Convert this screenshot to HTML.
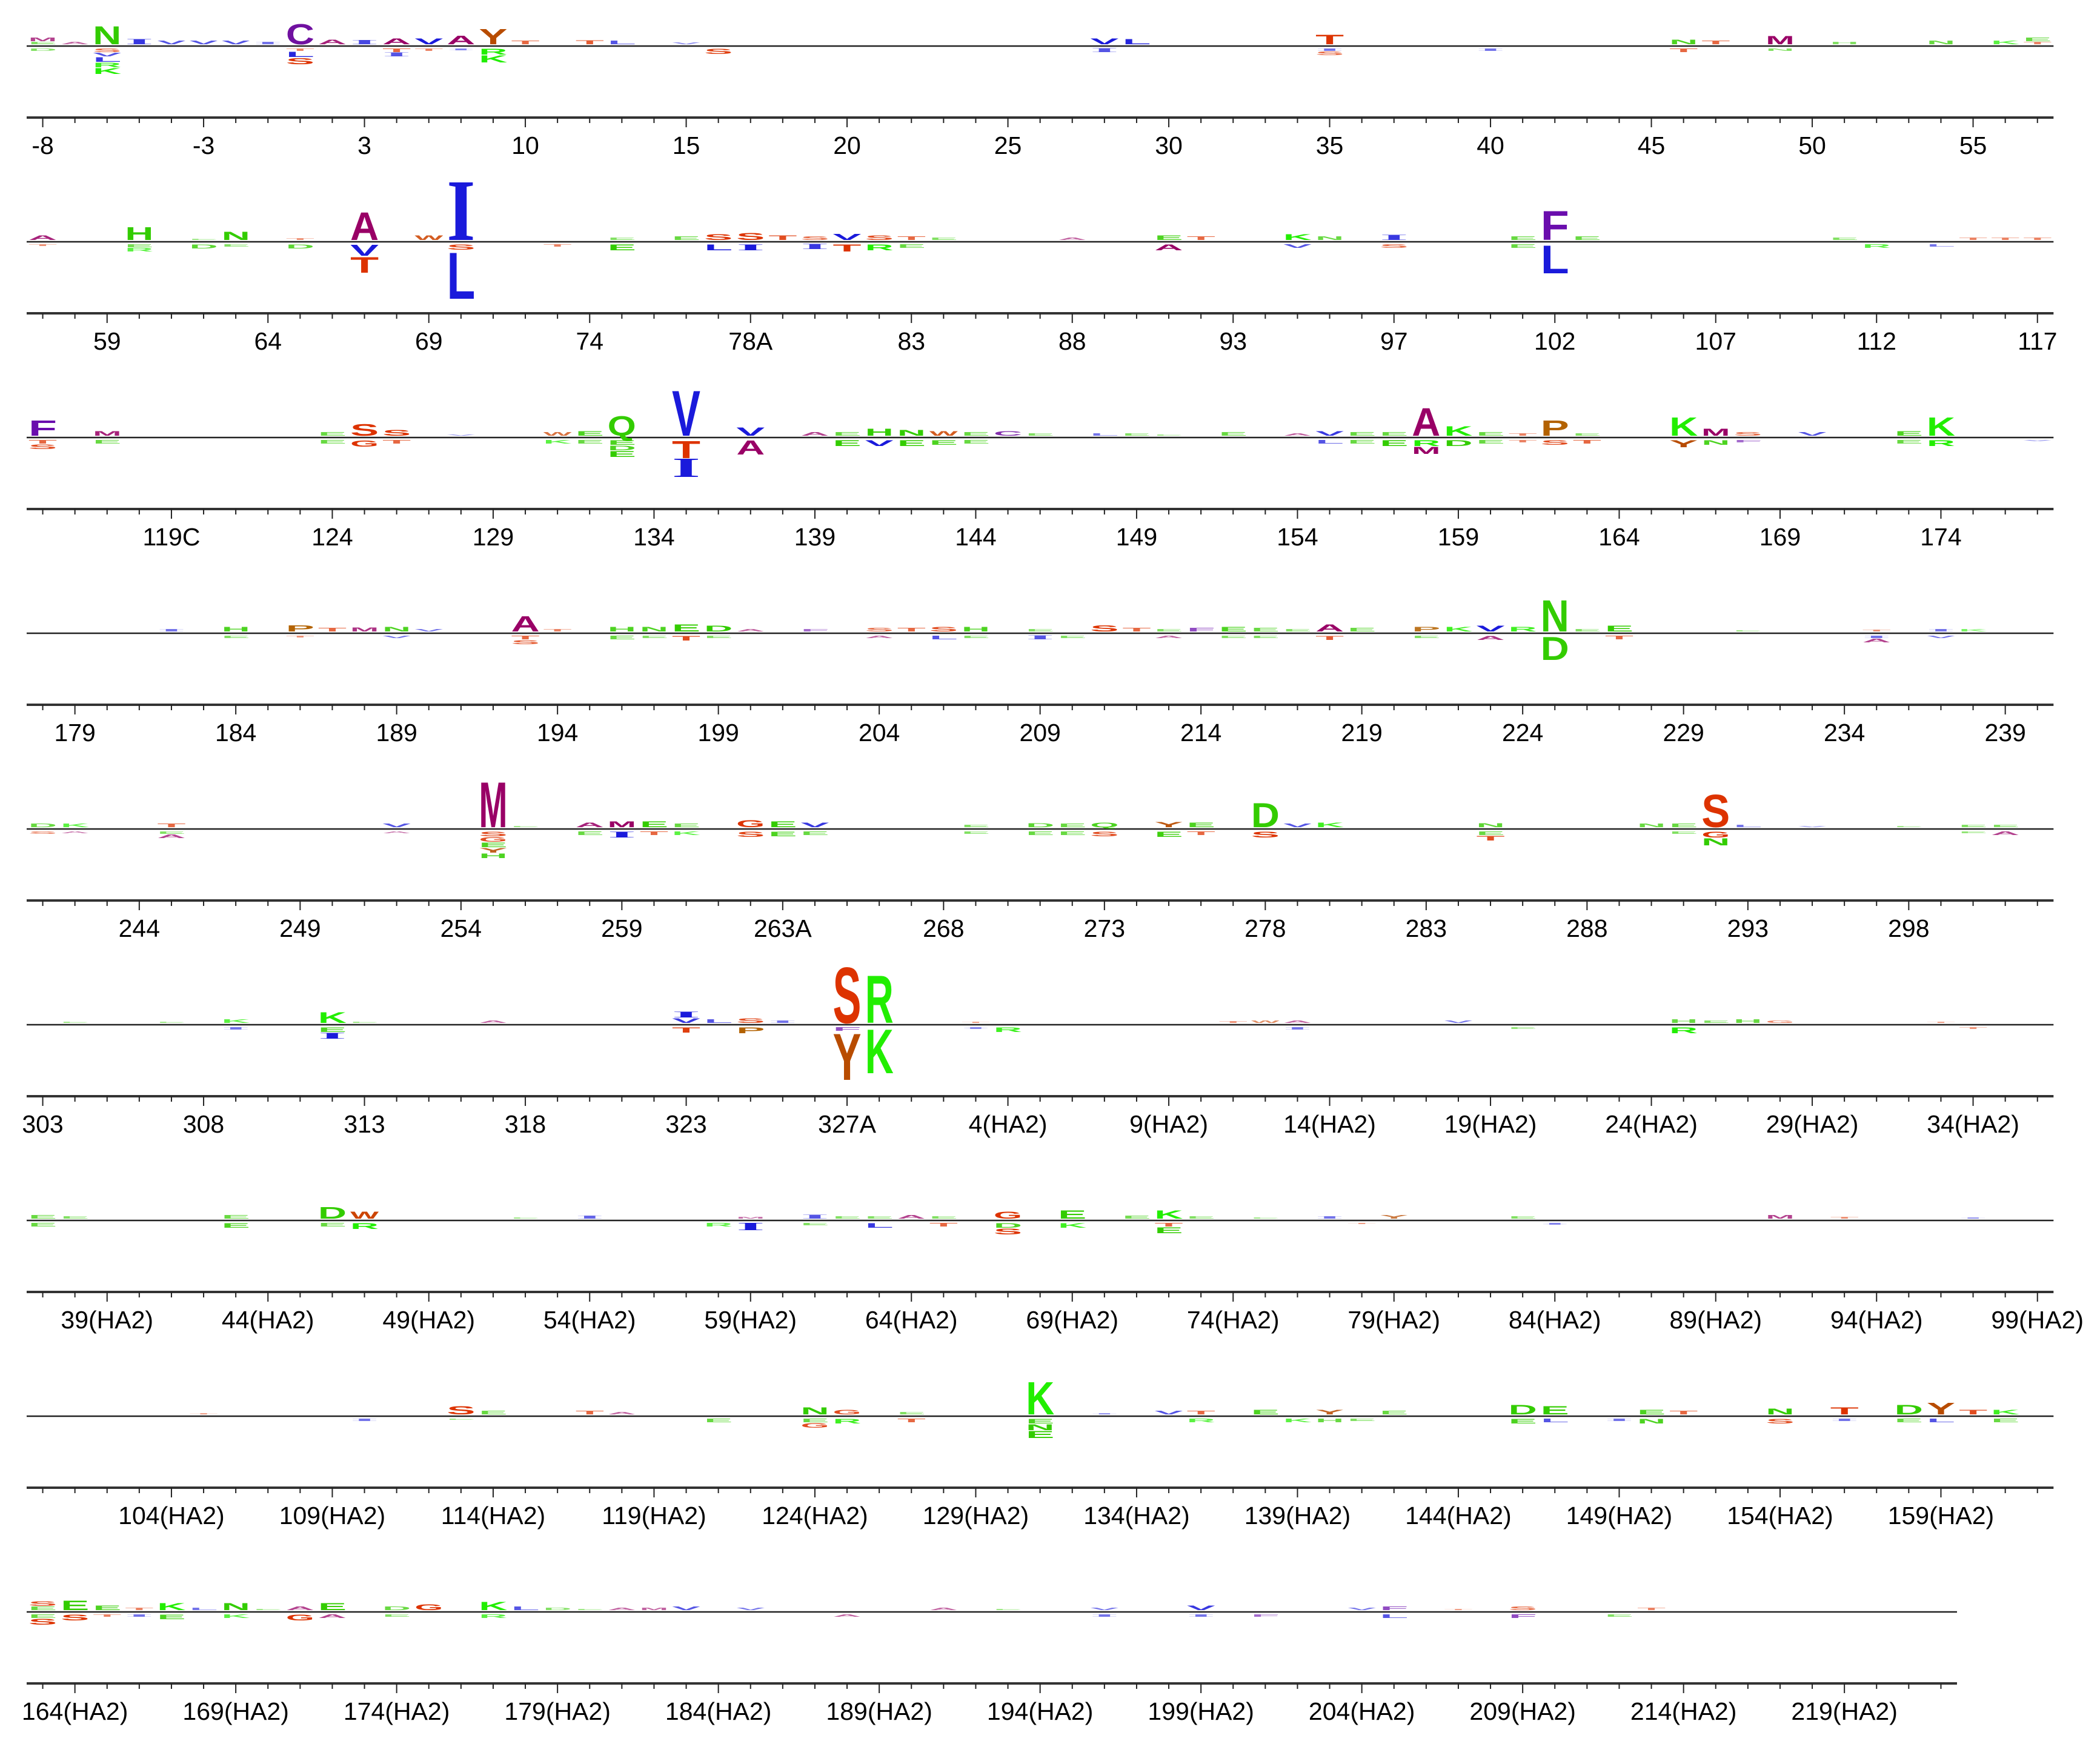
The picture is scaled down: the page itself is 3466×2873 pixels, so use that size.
<!DOCTYPE html>
<html><head><meta charset="utf-8"><style>
html,body{margin:0;padding:0;background:#fff;}
svg{display:block;}
</style></head><body>
<svg id="chart" xmlns="http://www.w3.org/2000/svg" width="3466" height="2873" viewBox="0 0 3466 2873"></svg>
<script>
// Axis label data per row
const rowLabels = [
 ["-8","-3","3","10","15","20","25","30","35","40","45","50","55"],
 ["59","64","69","74","78A","83","88","93","97","102","107","112","117"],
 ["119C","124","129","134","139","144","149","154","159","164","169","174"],
 ["179","184","189","194","199","204","209","214","219","224","229","234","239"],
 ["244","249","254","259","263A","268","273","278","283","288","293","298"],
 ["303","308","313","318","323","327A","4(HA2)","9(HA2)","14(HA2)","19(HA2)","24(HA2)","29(HA2)","34(HA2)"],
 ["39(HA2)","44(HA2)","49(HA2)","54(HA2)","59(HA2)","64(HA2)","69(HA2)","74(HA2)","79(HA2)","84(HA2)","89(HA2)","94(HA2)","99(HA2)"],
 ["104(HA2)","109(HA2)","114(HA2)","119(HA2)","124(HA2)","129(HA2)","134(HA2)","139(HA2)","144(HA2)","149(HA2)","154(HA2)","159(HA2)"],
 ["164(HA2)","169(HA2)","174(HA2)","179(HA2)","184(HA2)","189(HA2)","194(HA2)","199(HA2)","204(HA2)","209(HA2)","214(HA2)","219(HA2)"]
];
const rowFirstLabelIndex = [0,2,4,1,3,0,2,4,1];
const rowPositions = [63,63,63,63,63,63,63,63,60];
// letters: [row, position index, residue, value (+ enriched / - depleted)]
const letters = [
[0,2,'N',1.55],[0,8,'C',1.75],[0,14,'Y',1.3],[0,13,'A',0.75],[0,12,'V',0.5],[0,11,'A',0.5],[0,10,'I',0.35],[0,9,'A',0.4],
[0,0,'M',0.3],[0,0,'E',0.2],[0,1,'A',0.2],[0,3,'I',0.4],[0,4,'V',0.3],[0,5,'V',0.3],[0,6,'V',0.3],[0,7,'I',0.2],
[0,15,'T',0.3],[0,17,'T',0.35],[0,18,'L',0.3],[0,20,'V',0.15],[0,33,'V',0.5],[0,34,'L',0.45],[0,40,'T',0.8],[0,51,'N',0.4],
[0,52,'T',0.3],[0,54,'M',0.7],[0,56,'H',0.2],[0,59,'N',0.3],[0,61,'K',0.3],[0,62,'E',0.3],[0,62,'T',0.2],
[0,2,'S',-0.3],[0,2,'L',-0.4],[0,2,'V',-0.3],[0,2,'R',-0.4],[0,2,'K',-0.5],[0,0,'D',-0.2],[0,8,'L',-0.45],[0,8,'S',-0.55],
[0,8,'T',-0.2],[0,11,'T',-0.3],[0,11,'I',-0.3],[0,12,'T',-0.2],[0,14,'R',-0.5],[0,14,'K',-0.6],[0,13,'I',-0.15],[0,21,'S',-0.45],
[0,33,'I',-0.3],[0,40,'S',-0.3],[0,40,'I',-0.2],[0,45,'I',-0.2],[0,51,'T',-0.3],[0,54,'N',-0.2],
[1,0,'A',0.4],[1,3,'H',1.1],[1,6,'N',0.7],[1,5,'E',0.1],[1,8,'T',0.15],[1,10,'A',2.4],[1,12,'W',0.4],[1,13,'I',4.8],
[1,0,'T',-0.15],[1,3,'R',-0.3],[1,3,'E',-0.25],[1,5,'D',-0.35],[1,6,'E',-0.2],[1,8,'D',-0.35],[1,10,'V',-0.95],[1,10,'T',-1.35],
[1,13,'S',-0.45],[1,13,'L',-4.0],[1,16,'T',-0.2],[1,18,'E',-0.5],[1,18,'E',0.2],[1,20,'E',0.3],
[1,21,'S',0.5],[1,22,'S',0.6],[1,23,'T',0.4],[1,24,'S',0.3],[1,25,'V',0.55],[1,26,'S',0.4],[1,27,'T',0.3],[1,28,'E',0.2],
[1,21,'L',-0.5],[1,22,'I',-0.5],[1,24,'I',-0.4],[1,25,'T',-0.6],[1,26,'R',-0.5],[1,27,'E',-0.3],
[1,32,'A',0.2],[1,35,'E',0.4],[1,36,'T',0.3],[1,35,'A',-0.5],[1,39,'K',0.5],[1,40,'N',0.3],[1,39,'V',-0.3],[1,42,'I',0.4],
[1,42,'S',-0.3],[1,47,'F',2.5],[1,47,'L',-2.4],[1,46,'E',0.3],[1,48,'E',0.3],[1,46,'E',-0.3],[1,56,'E',0.2],[1,57,'R',-0.3],
[1,60,'T',0.2],[1,61,'T',0.2],[1,62,'T',0.2],[1,59,'L',-0.2],
[2,0,'F',1.3],[2,2,'M',0.4],[2,0,'S',-0.4],[2,0,'T',-0.3],[2,2,'E',-0.3],[2,10,'S',1.0],[2,11,'S',0.5],[2,9,'E',0.3],
[2,10,'G',-0.55],[2,9,'E',-0.3],[2,11,'T',-0.3],[2,13,'V',0.1],[2,16,'W',0.3],[2,17,'E',0.4],[2,18,'Q',1.7],[2,18,'E',-0.4],
[2,18,'D',-0.4],[2,18,'E',-0.5],[2,16,'K',-0.3],[2,17,'E',-0.3],[2,20,'V',3.9],[2,20,'T',-1.5],[2,20,'I',-1.5],[2,22,'V',0.7],
[2,22,'A',-1.2],[2,24,'A',0.3],[2,25,'E',0.3],[2,26,'H',0.6],[2,27,'N',0.5],[2,28,'W',0.4],[2,29,'E',0.3],[2,30,'C',0.4],
[2,31,'E',0.2],[2,25,'E',-0.5],[2,26,'V',-0.5],[2,27,'E',-0.5],[2,28,'E',-0.4],[2,29,'E',-0.3],[2,33,'L',0.2],[2,34,'E',0.2],
[2,35,'E',0.1],[2,37,'E',0.3],[2,39,'A',0.2],[2,40,'V',0.4],[2,41,'E',0.3],[2,42,'E',0.3],[2,43,'A',2.4],[2,44,'K',0.8],
[2,45,'E',0.3],[2,46,'T',0.2],[2,40,'L',-0.3],[2,41,'E',-0.3],[2,42,'E',-0.5],[2,43,'R',-0.5],[2,43,'M',-0.6],[2,44,'D',-0.5],
[2,45,'E',-0.3],[2,46,'T',-0.2],[2,47,'P',1.3],[2,48,'E',0.2],[2,47,'S',-0.4],[2,48,'T',-0.3],[2,51,'K',1.6],[2,52,'M',0.6],
[2,53,'S',0.3],[2,51,'Y',-0.6],[2,52,'N',-0.4],[2,53,'F',-0.2],[2,55,'V',0.3],[2,58,'E',0.4],[2,59,'K',1.6],[2,58,'E',-0.3],
[2,59,'R',-0.5],[2,62,'V',-0.1],
[3,4,'I',0.2],[3,6,'H',0.4],[3,8,'P',0.55],[3,9,'T',0.3],[3,10,'M',0.35],[3,11,'N',0.4],[3,12,'V',0.2],[3,15,'A',1.3],
[3,16,'T',0.2],[3,18,'H',0.4],[3,19,'N',0.4],[3,20,'E',0.6],[3,21,'D',0.5],[3,22,'A',0.2],[3,24,'F',0.2],[3,26,'S',0.3],
[3,27,'T',0.3],[3,28,'S',0.4],[3,29,'H',0.4],[3,31,'E',0.2],[3,33,'S',0.55],[3,34,'T',0.3],[3,35,'E',0.2],[3,36,'F',0.3],
[3,37,'E',0.4],[3,38,'E',0.3],[3,39,'E',0.2],[3,40,'A',0.6],[3,41,'E',0.3],[3,43,'P',0.4],[3,44,'K',0.4],[3,45,'V',0.5],
[3,46,'R',0.4],[3,47,'N',2.7],[3,48,'E',0.2],[3,49,'E',0.5],[3,53,'E',0.1],[3,57,'T',0.15],[3,59,'I',0.2],[3,60,'K',0.2],
[3,6,'E',-0.2],[3,8,'T',-0.15],[3,11,'V',-0.2],[3,15,'T',-0.3],[3,15,'S',-0.35],[3,18,'E',-0.3],[3,19,'E',-0.2],[3,20,'T',-0.4],
[3,21,'E',-0.2],[3,26,'A',-0.2],[3,28,'L',-0.3],[3,29,'E',-0.2],[3,31,'I',-0.3],[3,32,'E',-0.2],[3,35,'A',-0.2],[3,37,'E',-0.2],
[3,38,'E',-0.2],[3,40,'T',-0.35],[3,43,'E',-0.2],[3,45,'A',-0.35],[3,47,'D',-2.0],[3,49,'T',-0.3],[3,57,'A',-0.3],[3,57,'I',-0.2],[3,59,'V',-0.2],
[4,0,'D',0.3],[4,1,'K',0.3],[4,4,'T',0.3],[4,11,'V',0.3],[4,14,'M',3.9],[4,15,'E',0.1],[4,17,'A',0.4],[4,18,'M',0.5],
[4,19,'E',0.5],[4,20,'E',0.3],[4,22,'G',0.6],[4,23,'E',0.5],[4,24,'V',0.4],[4,29,'E',0.2],[4,31,'D',0.35],[4,32,'E',0.3],
[4,33,'Q',0.4],[4,35,'Y',0.45],[4,36,'E',0.4],[4,38,'D',2.1],[4,39,'V',0.3],[4,40,'K',0.4],[4,45,'N',0.35],[4,50,'N',0.3],
[4,51,'E',0.3],[4,52,'S',2.8],[4,53,'L',0.2],[4,55,'V',0.1],[4,58,'E',0.1],[4,60,'E',0.2],[4,61,'E',0.2],
[4,0,'S',-0.2],[4,1,'A',-0.15],[4,4,'A',-0.3],[4,4,'E',-0.2],[4,11,'A',-0.15],[4,14,'S',-0.4],[4,14,'G',-0.4],[4,14,'E',-0.4],
[4,14,'Y',-0.4],[4,14,'H',-0.4],[4,17,'E',-0.3],[4,18,'I',-0.5],[4,19,'T',-0.3],[4,20,'K',-0.3],[4,22,'S',-0.45],[4,23,'E',-0.4],
[4,24,'E',-0.3],[4,29,'E',-0.2],[4,31,'E',-0.3],[4,32,'E',-0.3],[4,33,'S',-0.4],[4,35,'E',-0.45],[4,36,'T',-0.3],[4,38,'S',-0.5],
[4,45,'T',-0.4],[4,45,'E',-0.3],[4,51,'E',-0.2],[4,52,'N',-0.6],[4,52,'G',-0.5],[4,60,'E',-0.15],[4,61,'A',-0.3],
[5,1,'E',0.1],[5,4,'E',0.1],[5,6,'K',0.3],[5,9,'K',0.9],[5,10,'E',0.1],[5,14,'A',0.2],[5,20,'I',0.5],[5,20,'V',0.4],
[5,21,'L',0.3],[5,22,'S',0.4],[5,23,'I',0.2],[5,25,'S',4.8],[5,26,'R',4.1],[5,29,'T',0.1],[5,37,'T',0.15],[5,38,'W',0.2],
[5,39,'A',0.2],[5,44,'V',0.2],[5,51,'H',0.3],[5,52,'E',0.2],[5,53,'H',0.3],[5,54,'G',0.2],[5,59,'T',0.1],
[5,6,'I',-0.2],[5,9,'E',-0.4],[5,9,'I',-0.5],[5,20,'T',-0.45],[5,22,'P',-0.5],[5,25,'F',-0.3],[5,25,'Y',-4.0],[5,26,'K',-3.8],
[5,30,'R',-0.4],[5,29,'I',-0.15],[5,39,'I',-0.2],[5,46,'E',-0.15],[5,51,'R',-0.5],[5,60,'T',-0.15],
[6,0,'E',0.3],[6,1,'E',0.2],[6,6,'E',0.3],[6,9,'D',1.0],[6,10,'W',0.6],[6,15,'E',0.1],[6,17,'I',0.25],[6,22,'M',0.15],
[6,24,'I',0.3],[6,25,'E',0.2],[6,26,'E',0.2],[6,27,'A',0.3],[6,28,'E',0.2],[6,30,'G',0.6],[6,32,'E',0.7],[6,34,'E',0.25],
[6,35,'K',0.7],[6,36,'E',0.2],[6,38,'E',0.1],[6,40,'I',0.2],[6,42,'Y',0.3],[6,46,'E',0.2],[6,54,'M',0.3],[6,56,'T',0.15],[6,60,'I',0.1],
[6,0,'E',-0.3],[6,6,'E',-0.4],[6,9,'E',-0.3],[6,10,'R',-0.5],[6,21,'R',-0.3],[6,22,'I',-0.6],[6,24,'E',-0.2],[6,26,'L',-0.4],
[6,28,'T',-0.3],[6,30,'D',-0.4],[6,30,'S',-0.5],[6,32,'K',-0.4],[6,35,'E',-0.5],[6,35,'T',-0.3],[6,41,'T',-0.1],[6,47,'I',-0.15],
[7,5,'T',0.1],[7,13,'S',0.7],[7,14,'E',0.3],[7,17,'T',0.3],[7,18,'A',0.2],[7,24,'N',0.6],[7,25,'G',0.4],[7,27,'E',0.2],
[7,31,'K',2.8],[7,33,'I',0.1],[7,35,'V',0.3],[7,36,'T',0.3],[7,38,'E',0.4],[7,40,'Y',0.4],[7,42,'E',0.3],[7,46,'D',0.8],
[7,47,'E',0.7],[7,50,'E',0.4],[7,51,'T',0.3],[7,54,'N',0.5],[7,56,'T',0.6],[7,58,'D',0.8],[7,59,'Y',1.0],[7,60,'T',0.4],[7,61,'K',0.4],
[7,10,'I',-0.2],[7,13,'E',-0.1],[7,21,'E',-0.3],[7,24,'E',-0.3],[7,24,'G',-0.4],[7,25,'R',-0.4],[7,27,'T',-0.3],[7,31,'E',-0.4],
[7,31,'N',-0.5],[7,31,'E',-0.6],[7,36,'R',-0.3],[7,39,'K',-0.3],[7,40,'H',-0.3],[7,41,'E',-0.2],[7,46,'E',-0.4],[7,47,'L',-0.3],
[7,49,'I',-0.2],[7,50,'N',-0.4],[7,54,'S',-0.4],[7,56,'I',-0.2],[7,58,'E',-0.3],[7,59,'L',-0.3],[7,61,'E',-0.3],
[8,0,'S',0.4],[8,0,'E',0.3],[8,1,'E',0.8],[8,2,'E',0.4],[8,3,'T',0.2],[8,4,'K',0.6],[8,5,'L',0.2],[8,6,'N',0.6],
[8,7,'E',0.1],[8,8,'A',0.3],[8,9,'E',0.6],[8,11,'D',0.3],[8,12,'G',0.5],[8,14,'K',0.7],[8,15,'L',0.3],[8,16,'D',0.2],
[8,17,'E',0.1],[8,18,'A',0.2],[8,19,'M',0.2],[8,20,'V',0.3],[8,22,'V',0.2],[8,28,'A',0.2],[8,30,'E',0.1],[8,33,'V',0.2],
[8,36,'V',0.4],[8,41,'V',0.2],[8,42,'F',0.3],[8,44,'T',0.1],[8,46,'S',0.3],[8,50,'T',0.2],
[8,0,'S',-0.5],[8,0,'E',-0.3],[8,1,'S',-0.5],[8,2,'T',-0.2],[8,3,'I',-0.2],[8,4,'E',-0.4],[8,6,'K',-0.3],[8,8,'G',-0.5],
[8,9,'A',-0.3],[8,11,'E',-0.2],[8,14,'R',-0.3],[8,25,'A',-0.2],[8,33,'I',-0.2],[8,36,'I',-0.2],[8,38,'F',-0.2],[8,42,'L',-0.3],
[8,46,'F',-0.3],[8,49,'E',-0.2]
];

const NS = "http://www.w3.org/2000/svg";
const svg = document.getElementById('chart');
const X0 = 44, STEP = 53.1, ROWPITCH = 323, UNIT = 20, LW = 47;
const colors = {A:'#990066',M:'#990066',C:'#7010a0',F:'#6a0dad',Y:'#b84c00',P:'#b36200',W:'#cc4400',
  S:'#dd3300',T:'#dd3300',G:'#dd3300',I:'#1a1adb',L:'#1a1adb',V:'#1a1adb',
  N:'#33cc00',Q:'#33cc00',H:'#33cc00',D:'#33cc00',E:'#33cc00',K:'#22ee00',R:'#22ee00'};
function xPos(i){ return X0 + (i + 0.5) * STEP; }
function zeroY(r){ return 76 + ROWPITCH * r; }
function axisY(r){ return 194 + ROWPITCH * r; }
function hPx(v){ return Math.abs(v) * UNIT; }

for (let r = 0; r < 9; r++) {
  const g = document.createElementNS(NS, 'g');
  
  
  svg.appendChild(g);
  const xEnd = X0 + rowPositions[r] * STEP;
  const zl = document.createElementNS(NS, 'line');
  zl.setAttribute('x1', X0); zl.setAttribute('x2', xEnd);
  zl.setAttribute('y1', zeroY(r)); zl.setAttribute('y2', zeroY(r));
  zl.setAttribute('stroke', '#222'); zl.setAttribute('stroke-width', '2.5');
  
  
  g.appendChild(zl);
  const ax = document.createElementNS(NS, 'line');
  ax.setAttribute('x1', X0); ax.setAttribute('x2', xEnd);
  ax.setAttribute('y1', axisY(r)); ax.setAttribute('y2', axisY(r));
  ax.setAttribute('stroke', '#333'); ax.setAttribute('stroke-width', '4');
  
  
  g.appendChild(ax);
  for (let i = 0; i < rowPositions[r]; i++) {
    const li = (i - rowFirstLabelIndex[r]);
    const major = li >= 0 && li % 5 === 0 && (li / 5) < rowLabels[r].length;
    const t = document.createElementNS(NS, 'line');
    t.setAttribute('x1', xPos(i)); t.setAttribute('x2', xPos(i));
    t.setAttribute('y1', axisY(r)); t.setAttribute('y2', axisY(r) + (major ? 16 : 9));
    t.setAttribute('stroke', '#222'); t.setAttribute('stroke-width', '2');
    
    
    g.appendChild(t);
  }
  rowLabels[r].forEach((lab, k) => {
    const i = rowFirstLabelIndex[r] + 5 * k;
    const tx = document.createElementNS(NS, 'text');
    tx.setAttribute('x', xPos(i)); tx.setAttribute('y', axisY(r) + 60);
    tx.setAttribute('text-anchor', 'middle');
    tx.setAttribute('font-family', 'Liberation Sans, Arial, sans-serif');
    tx.setAttribute('font-size', '41');
    tx.setAttribute('fill', '#000');
    tx.textContent = lab;
    
    
    g.appendChild(tx);
  });
}

// group stacks
const stacks = {};
letters.forEach(d => {
  const key = d[0] + '_' + d[1] + '_' + (d[3] >= 0 ? 'u' : 'd');
  (stacks[key] = stacks[key] || []).push(d);
});
Object.keys(stacks).forEach(key => {
  const arr = stacks[key].slice().sort((a, b) => Math.abs(a[3]) - Math.abs(b[3]));
  const up = arr[0][3] >= 0;
  const r = arr[0][0], i = arr[0][1];
  let cur = up ? zeroY(r) - 3 : zeroY(r) + 4;
  arr.forEach(d => {
    const h = hPx(d[3]);
    const base = up ? cur : cur + h;
    const isI = d[2] === 'I';
    const t = document.createElementNS(NS, 'text');
    t.setAttribute('x', 0); t.setAttribute('y', 0);
    t.setAttribute('font-family', isI ? 'Liberation Serif, serif' : 'Liberation Sans, Arial, sans-serif');
    t.setAttribute('font-weight', 'bold');
    t.setAttribute('font-size', '100');
    t.setAttribute('text-anchor', 'middle');
    t.setAttribute('textLength', '66');
    t.setAttribute('lengthAdjust', 'spacingAndGlyphs');
    t.setAttribute('fill', colors[d[2]] || '#333');
    const op = Math.min(1, 0.35 + Math.abs(d[3]) * 1.3);
    t.setAttribute('fill-opacity', op.toFixed(2));
    const capH = isI ? 66.2 : 72.9;
    t.setAttribute('transform', 'translate(' + xPos(i).toFixed(1) + ',' + base.toFixed(1) + ') scale(' + (LW / 66).toFixed(3) + ',' + (h / capH).toFixed(4) + ')');
    t.textContent = d[2];
    
    
    svg.appendChild(t);
    cur = up ? cur - h - 1 : cur + h + 1;
  });
});
</script>
</body></html>
